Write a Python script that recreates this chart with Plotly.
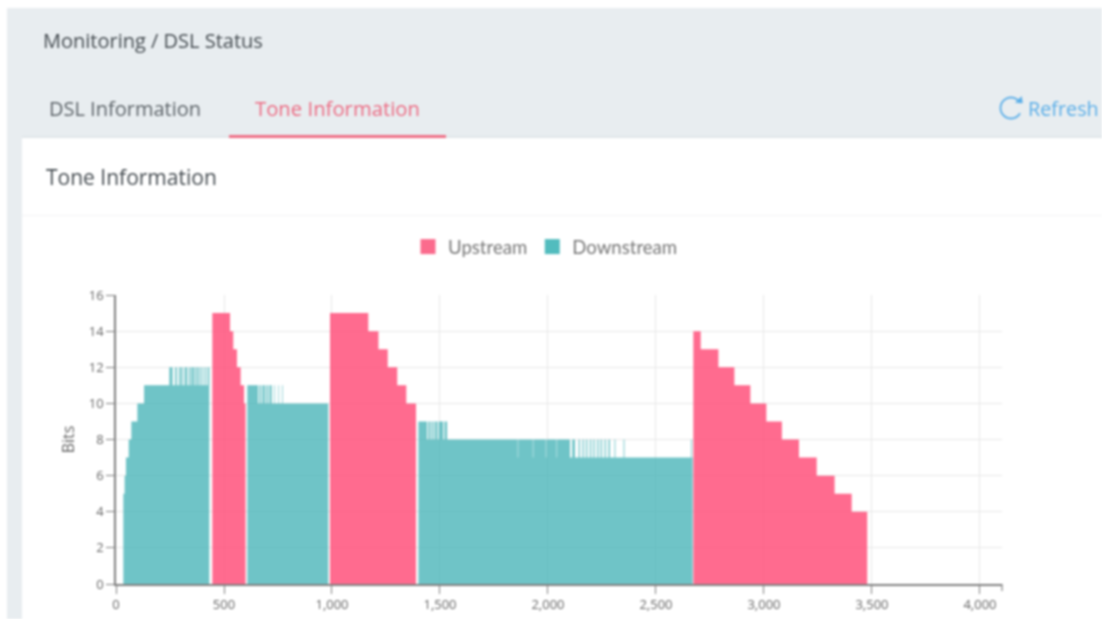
import math
import plotly.graph_objects as go

# ---- chart data: step start (tone index) and bits held from that tone on ----
DOWN_TONES = [34, 40, 46, 59, 71, 99, 130,
              247, 262, 274, 282, 292, 300, 304, 310, 318, 330, 338, 345, 350, 362, 368, 376, 381, 388, 395, 401, 410, 416, 424, 432,
              608, 658, 664, 672, 678, 690, 696, 704, 710, 721, 733, 736, 752, 755, 770, 773, 783, 983,
              1400, 1440, 1446, 1456, 1462, 1470, 1476, 1488, 1494, 1515, 1521, 1533, 1539,
              1860, 1862, 1930, 1932, 1990, 1992, 2040, 2042, 2102, 2112, 2125, 2142, 2148, 2160, 2166, 2176, 2182, 2194, 2200, 2210, 2216,
              2228, 2234, 2244, 2250, 2262, 2268, 2280, 2287, 2308, 2312, 2350, 2354, 2662, 2666, 2670]
DOWN_BITS = [5, 6, 7, 8, 9, 10, 11,
             12, 11, 12, 11, 12, 11, 12, 11, 12, 11, 12, 11, 12, 11, 12, 11, 12, 11, 12, 11, 12, 11, 12, 0,
             11, 10, 11, 10, 11, 10, 11, 10, 11, 10, 11, 10, 11, 10, 11, 10, 10, 0,
             9, 8, 9, 8, 9, 8, 9, 8, 9, 8, 9, 8, 8,
             7, 8, 7, 8, 7, 8, 7, 8, 7, 8, 7, 8, 7, 8, 7, 8, 7, 8, 7, 8, 7,
             8, 7, 8, 7, 8, 7, 8, 7, 8, 7, 8, 7, 8, 7, 0]

UP_TONES = [446, 528, 543, 560, 577, 593, 600,
            991, 1168, 1215, 1258, 1302, 1344, 1389,
            2673, 2707, 2789, 2863, 2937, 3011, 3083, 3162, 3244, 3327, 3406, 3478]
UP_BITS = [15, 14, 13, 12, 11, 10, 0,
           15, 14, 13, 12, 11, 10, 0,
           14, 13, 12, 11, 10, 9, 8, 7, 6, 5, 4, 0]

X_TICKS = [0, 500, 1000, 1500, 2000, 2500, 3000, 3500, 4000]
X_LABELS = ["0", "500", "1,000", "1,500", "2,000", "2,500", "3,000", "3,500", "4,000"]
Y_TICKS = [0, 2, 4, 6, 8, 10, 12, 14, 16]

# ---- page geometry ----
W, H = 1102, 619
L, R, T, B = 116, 1002, 295, 584
def px(v): return (v - L) / (R - L)
def py(v): return (B - v) / (B - T)

PINK_FILL = "rgba(255,70,115,0.80)"
TEAL_FILL = "rgba(66,178,182,0.76)"
FONT = "Open Sans"
BLUE = "#5aaee8"

fig = go.Figure()
fig.add_trace(go.Scatter(x=DOWN_TONES, y=DOWN_BITS, mode="lines", line=dict(shape="hv", width=0),
                         fill="tozeroy", fillcolor=TEAL_FILL, showlegend=False, hoverinfo="skip"))
fig.add_trace(go.Scatter(x=UP_TONES, y=UP_BITS, mode="lines", line=dict(shape="hv", width=0),
                         fill="tozeroy", fillcolor=PINK_FILL, showlegend=False, hoverinfo="skip"))
fig.add_trace(go.Scatter(x=[None], y=[None], mode="markers", name="Upstream",
                         marker=dict(symbol="square", size=15, color="#fb6b8d")))
fig.add_trace(go.Scatter(x=[None], y=[None], mode="markers", name="Downstream",
                         marker=dict(symbol="square", size=15, color="#52bcbe")))

def rect(x0, y0, x1, y1, color):
    return dict(type="rect", xref="paper", yref="paper", x0=px(x0), x1=px(x1), y0=py(y1), y1=py(y0),
                fillcolor=color, line=dict(width=0), layer="below")

def path_of(points, close=False):
    d = "M " + " L ".join(f"{px(a):.5f},{py(b):.5f}" for a, b in points)
    return d + (" Z" if close else "")

# refresh icon: open ring with a small arrow head at its upper right
cx, cy, rad = 1011, 108, 10.5
ring = [(cx + rad * math.cos(math.radians(a)), cy - rad * math.sin(math.radians(a)))
        for a in range(-30, -331, -10)]

shapes = [
    rect(7, 8, W, 138, "#e8edf0"),
    rect(7, 138, 22, H, "#e8edf0"),
    rect(22, 215, W, 216, "#f3f4f5"),
    rect(22, 136, W, 138, "#e0e6e9"),
    rect(229, 135, 446, 138, "#ee6f86"),
    dict(type="line", xref="paper", yref="paper", x0=1, x1=1, y0=0, y1=py(591),
         line=dict(color="#808080", width=1.2)),
    dict(type="path", xref="paper", yref="paper", path=path_of(ring),
         line=dict(color=BLUE, width=1.8)),
    dict(type="path", xref="paper", yref="paper",
         path=path_of([(1015.5, 102.5), (1022.5, 103), (1021.5, 96.5)], close=True),
         fillcolor=BLUE, line=dict(color=BLUE, width=0.5)),
]

def note(text, x, y, size, color, anchor="left", family=FONT):
    return dict(text=text, xref="paper", yref="paper", x=px(x), y=py(y), xanchor=anchor, yanchor="middle",
                showarrow=False, font=dict(family=family, size=size, color=color))

annotations = [
    note("Monitoring / DSL Status", 41, 40, 20, "#444b50"),
    note("DSL Information", 47, 108, 20, "#5c6368"),
    note("Tone Information", 253, 108, 20.3, "#ec6a82"),
    note("Refresh", 1026, 108, 19.8, BLUE),
    note("Tone Information", 44, 177, 21, "#444b50"),
]

axis_common = dict(showgrid=True, gridcolor="#e8e8e8", gridwidth=1.2, zeroline=False,
                   showline=True, linecolor="#808080", linewidth=1.6,
                   ticks="outside", ticklen=8, tickcolor="#808080", tickwidth=1.2,
                   tickfont=dict(family=FONT, size=13, color="#666666"))

fig.update_layout(
    width=W, height=H, autosize=False,
    margin=dict(l=L, r=W - R, t=T, b=H - B, pad=0),
    paper_bgcolor="white", plot_bgcolor="rgba(0,0,0,0)",
    shapes=shapes, annotations=annotations,
    legend=dict(orientation="h", xref="container", yref="container",
                x=408 / W, y=1 - 247 / H, xanchor="left", yanchor="middle",
                font=dict(family="Lato", size=18.6, color="#777777"), itemwidth=30,
                bgcolor="rgba(0,0,0,0)"),
    xaxis=dict(range=[0, 4102], tickvals=X_TICKS, ticktext=X_LABELS, automargin=False, **axis_common),
    yaxis=dict(range=[0, 16], tickvals=Y_TICKS, automargin=True,
               title=dict(text="Bits", standoff=10, font=dict(family=FONT, size=16, color="#666666")),
               **axis_common),
)

post = ("document.body.style.margin='0';document.body.style.overflow='hidden';"
        "document.querySelector('.plotly-graph-div').style.filter='blur(0.9px)';")
fig.write_html("out.html", post_script=post, config=dict(displayModeBar=False))
